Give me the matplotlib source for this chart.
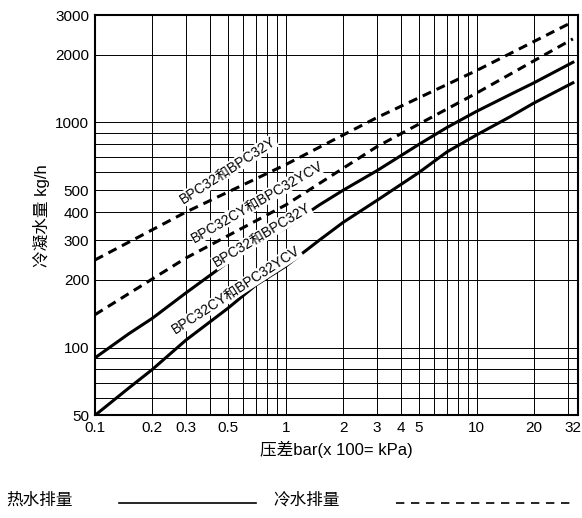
import matplotlib
matplotlib.use("Agg")
import matplotlib.pyplot as plt
import numpy as np
from matplotlib.ticker import FixedLocator, NullFormatter, NullLocator

plt.rcParams['font.family'] = ['Liberation Sans', 'Noto Sans CJK SC']

x_hot = [0.1, 0.15, 0.2, 0.3, 0.5, 0.7, 1, 1.5, 2, 3, 5, 7, 10, 15, 20, 32]
hot_a = [90, 115, 135, 175, 240, 290, 340, 430, 500, 610, 800, 950, 1120, 1330, 1500, 1850]
hot_b = [50, 66, 80, 108, 150, 190, 230, 300, 360, 450, 600, 740, 880, 1060, 1220, 1500]
x_cold = [0.1, 0.3, 1, 3, 10, 32]
cold_a = [245, 400, 650, 1050, 1700, 2800]
cold_b = [140, 250, 430, 780, 1350, 2350]
xticks = [0.1, 0.2, 0.3, 0.5, 1, 2, 3, 4, 5, 10, 20, 32]
xticklabels = ['0.1', '0.2', '0.3', '0.5', '1', '2', '3', '4', '5', '10', '20', '32']
yticks = [50, 100, 200, 300, 400, 500, 1000, 2000, 3000]

fig = plt.figure(figsize=(5.82, 5.18), dpi=100)
ax = fig.add_axes([0.163, 0.198, 0.83, 0.773])
ax.set_xscale('log'); ax.set_yscale('log')
ax.set_xlim(0.1, 34); ax.set_ylim(50, 3000)

vg = [i/10 for i in range(1, 10)] + list(range(1, 10)) + [10, 20, 30]
hg = list(range(50, 100, 10)) + list(range(100, 1000, 100)) + [1000, 2000, 3000]
for v in vg: ax.axvline(v, color='black', lw=0.7)
for h in hg: ax.axhline(h, color='black', lw=0.7)

ax.plot(x_hot, hot_a, color='black', lw=2.2)
ax.plot(x_hot, hot_b, color='black', lw=2.2)
ax.plot(x_cold, cold_a, color='black', lw=2.2, ls=(0, (3, 2)))
ax.plot(x_cold, cold_b, color='black', lw=2.2, ls=(0, (3, 2)))

kw = dict(fontsize=10, ha='center', va='center', bbox=dict(fc='white', ec='none', pad=0.3))
ax.text(0.5, 614, 'BPC32和BPC32Y', rotation=33, **kw)
ax.text(0.71, 443, 'BPC32CY和BPC32YCV', rotation=30, **kw)
ax.text(0.75, 315, 'BPC32和BPC32Y', rotation=31, **kw)
ax.text(0.55, 180, 'BPC32CY和BPC32YCV', rotation=33, **kw)

ax.xaxis.set_major_locator(FixedLocator(xticks))
ax.set_xticklabels(xticklabels)
ax.xaxis.set_minor_locator(NullLocator())
ax.yaxis.set_major_locator(FixedLocator(yticks))
ax.set_yticklabels([str(t) for t in yticks])
ax.yaxis.set_minor_formatter(NullFormatter())
ax.yaxis.set_minor_locator(NullLocator())
ax.tick_params(labelsize=11, length=0, pad=4)
for s in ax.spines.values(): s.set_linewidth(1.5)
ax.set_xlabel('压差bar(x 100= kPa)', fontsize=12, labelpad=4)
ax.set_ylabel('冷凝水量 kg/h', fontsize=12)

fig.text(0.01, 0.035, '热水排量', fontsize=12, va='center')
fig.add_artist(plt.Line2D([0.205, 0.44], [0.028, 0.028], color='black', lw=1.2, transform=fig.transFigure))
fig.text(0.47, 0.035, '冷水排量', fontsize=12, va='center')
fig.add_artist(plt.Line2D([0.68, 0.99], [0.028, 0.028], color='black', lw=1.2, ls=(0, (5, 4)), transform=fig.transFigure))
fig.savefig('out.png', dpi=100)
